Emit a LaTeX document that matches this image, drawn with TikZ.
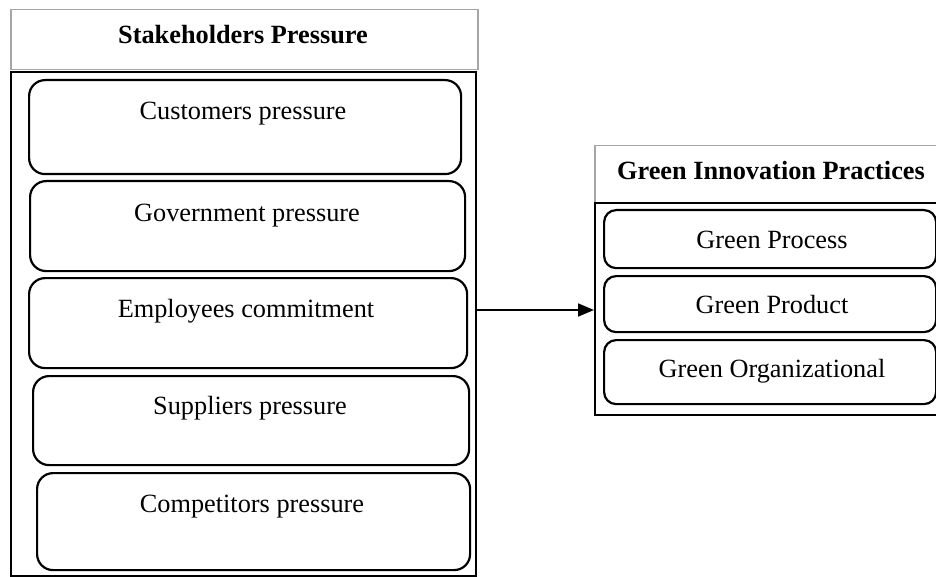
\documentclass[tikz,border=0pt]{standalone}
\usepackage{fontspec}
\setmainfont{Liberation Serif}
\usetikzlibrary{arrows.meta}
\tikzset{
  titlebox/.style={draw=black!35, line width=1.5pt, rectangle, inner sep=0pt, anchor=north west},
  outerbox/.style={draw=black, line width=1.6pt, rectangle, inner sep=0pt, anchor=north west},
  rbox/.style={draw=black, line width=2.2pt, rectangle, rounded corners=16pt, inner sep=0pt, anchor=north west},
  rboxs/.style={rbox, rounded corners=12pt},
  txt/.style={anchor=base, inner sep=0pt, font=\fontsize{26.3}{30}\selectfont},
  btxt/.style={txt, font=\fontsize{26.3}{30}\selectfont\bfseries},
  link/.style={draw=black, line width=1.8pt, -{Triangle[length=16pt, width=13pt]}}
}
\begin{document}
\begin{tikzpicture}[x=1pt, y=-1pt]
\useasboundingbox (0,0) rectangle (936,577);
% left group
\node[titlebox, minimum width=467pt, minimum height=60pt] (sth) at (10,9) {};
\node[btxt] (stht) at (243,44) {Stakeholders Pressure};
\node[outerbox, minimum width=465pt, minimum height=504pt] (left) at (10,71) {};
\node[rbox, minimum width=432pt, minimum height=94pt] (cust) at (28,79) {};
\node[txt] (custt) at (243,120) {Customers pressure};
\node[rbox, minimum width=435pt, minimum height=90pt] (gov) at (29,180) {};
\node[txt] (govt) at (247,222) {Government pressure};
\node[rbox, minimum width=438pt, minimum height=90pt] (emp) at (28,277) {};
\node[txt] (empt) at (246,317) {Employees commitment};
\node[rbox, minimum width=436pt, minimum height=89pt] (sup) at (32,375) {};
\node[txt] (supt) at (250,414) {Suppliers pressure};
\node[rbox, minimum width=433pt, minimum height=97pt] (comp) at (36,472) {};
\node[txt] (compt) at (252,512) {Competitors pressure};
% right group
\node[titlebox, minimum width=346pt, minimum height=57pt] (gip) at (594,145) {};
\node[btxt] (gipt) at (771,180) {Green Innovation Practices};
\node[outerbox, minimum width=346pt, minimum height=212pt] (right) at (594,202) {};
\node[rboxs, minimum width=332pt, minimum height=58pt] (proc) at (603,209) {};
\node[txt] (proct) at (772,248) {Green Process};
\node[rboxs, minimum width=332pt, minimum height=56pt] (prod) at (603,275) {};
\node[txt] (prodt) at (772,313) {Green Product};
\node[rboxs, minimum width=332pt, minimum height=64pt] (org) at (603,339) {};
\node[txt] (orgt) at (772,377) {Green Organizational};
% connector
\coordinate (ay) at (0,310);
\draw[link] (left.east |- ay) -- (right.west |- ay);
\end{tikzpicture}
\end{document}
